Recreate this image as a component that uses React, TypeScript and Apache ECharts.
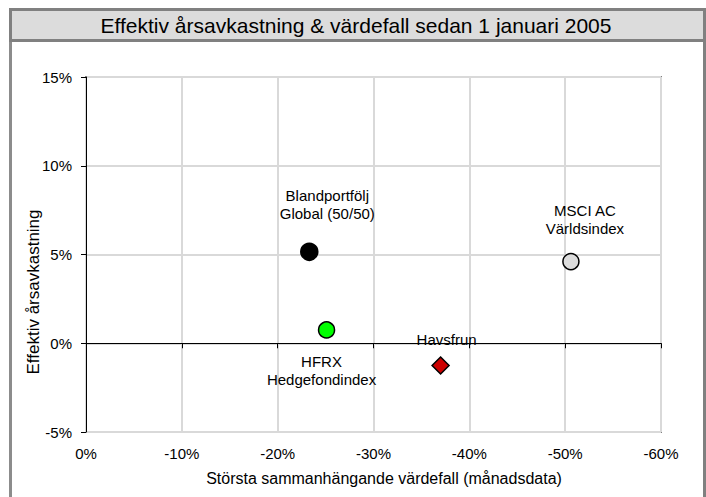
import React, { useEffect, useRef } from "react";
import * as echarts from "echarts";

const labels = ["Blandportfölj\nGlobal (50/50)", "MSCI AC\nVärldsindex", "HFRX\nHedgefondindex", "Havsfrun"];
const drawdown = [-23.3, -50.6, -25.1, -37.0];
const annualReturn = [5.15, 4.6, 0.75, -1.25];
const xTicks = [-60, -50, -40, -30, -20, -10, 0];
const yTicks = [-5, 0, 5, 10, 15];

const FONT = "'Liberation Sans', Arial, sans-serif";

const styles = [
  { symbol: "circle", size: 17, color: "#000000", offset: [18, -47] },
  { symbol: "circle", size: 16, color: "#dcdcdc", offset: [14, -42] },
  { symbol: "circle", size: 16, color: "#00ff00", offset: [-5, 41] },
  { symbol: "diamond", size: 17, color: "#cc0000", offset: [6, -26] },
];

export default function App() {
  const ref = useRef<HTMLDivElement>(null);
  useEffect(() => {
    const chart = echarts.init(ref.current!, null, { renderer: "svg" });
    const xMin = xTicks[0];
    const xMax = xTicks[xTicks.length - 1];
    const yMin = yTicks[0];
    const yMax = yTicks[yTicks.length - 1];
    chart.setOption({
      animation: false,
      backgroundColor: "#ffffff",
      textStyle: { fontFamily: FONT },
      grid: {
        left: 86,
        top: 77,
        width: 575,
        height: 355,
        show: true,
        borderColor: "#808080",
        borderWidth: 2,
        backgroundColor: "#ffffff",
      },
      xAxis: [
        {
          type: "value",
          min: xMin,
          max: xMax,
          interval: 10,
          inverse: true,
          position: "bottom",
          axisLine: { show: false, onZero: false },
          axisTick: { show: false },
          splitLine: { show: true, lineStyle: { color: "#d9d9d9", width: 2 } },
          axisLabel: {
            margin: 14,
            color: "#000",
            fontSize: 15,
            fontFamily: FONT,
            formatter: (v: number) => `${v}%`,
          },
        },
        {
          type: "value",
          min: xMin,
          max: xMax,
          interval: 10,
          inverse: true,
          position: "bottom",
          axisLine: { show: true, onZero: true, lineStyle: { color: "#000", width: 1 } },
          axisTick: { show: true, length: 5, lineStyle: { color: "#000", width: 1 } },
          splitLine: { show: false },
          axisLabel: { show: false },
        },
      ],
      yAxis: {
        type: "value",
        min: yMin,
        max: yMax,
        interval: 5,
        axisLine: { show: true, onZero: false, lineStyle: { color: "#000", width: 1 } },
        axisTick: { show: true, length: 5, lineStyle: { color: "#000", width: 1 } },
        splitLine: { show: true, lineStyle: { color: "#d9d9d9", width: 2 } },
        axisLabel: {
          margin: 14,
          color: "#000",
          fontSize: 15,
          fontFamily: FONT,
          formatter: (v: number) => `${v}%`,
        },
      },
      series: labels.map((name, i) => ({
        type: "scatter",
        name,
        xAxisIndex: 0,
        symbol: styles[i].symbol,
        symbolSize: styles[i].size,
        itemStyle: { color: styles[i].color, borderColor: "#000", borderWidth: 1.5, opacity: 1 },
        label: {
          show: true,
          position: "inside",
          offset: styles[i].offset,
          formatter: () => name,
          color: "#000",
          fontSize: 15,
          lineHeight: 18,
          align: "center",
          verticalAlign: "middle",
          fontFamily: FONT,
        },
        data: [[drawdown[i], annualReturn[i]]],
      })),
      graphic: [
        {
          type: "rect",
          shape: { x: 10.5, y: 9.5, width: 694, height: 31 },
          style: { fill: "#dcdcdc", stroke: "#808080", lineWidth: 3 },
          z: 10,
        },
        {
          type: "line",
          shape: { x1: 10.5, y1: 40, x2: 10.5, y2: 497 },
          style: { stroke: "#8c8c8c", lineWidth: 3 },
        },
        {
          type: "line",
          shape: { x1: 704.5, y1: 40, x2: 704.5, y2: 497 },
          style: { stroke: "#808080", lineWidth: 3 },
        },
        {
          type: "text",
          x: 356,
          y: 25,
          z: 11,
          style: {
            text: "Effektiv årsavkastning & värdefall sedan 1 januari 2005",
            fill: "#000",
            font: `21px ${FONT}`,
            align: "center",
            verticalAlign: "middle",
          },
        },
        {
          type: "text",
          x: 384,
          y: 478,
          style: {
            text: "Största sammanhängande värdefall (månadsdata)",
            fill: "#000",
            font: `16px ${FONT}`,
            align: "center",
            verticalAlign: "middle",
          },
        },
        {
          type: "text",
          x: 33,
          y: 292,
          rotation: Math.PI / 2,
          style: {
            text: "Effektiv årsavkastning",
            fill: "#000",
            font: `17px ${FONT}`,
            align: "center",
            verticalAlign: "middle",
          },
        },
      ],
    });
    return () => chart.dispose();
  }, []);
  return (
    <div
      ref={ref}
      style={{ position: "fixed", left: 0, top: 0, width: 706, height: 497 }}
    />
  );
}
